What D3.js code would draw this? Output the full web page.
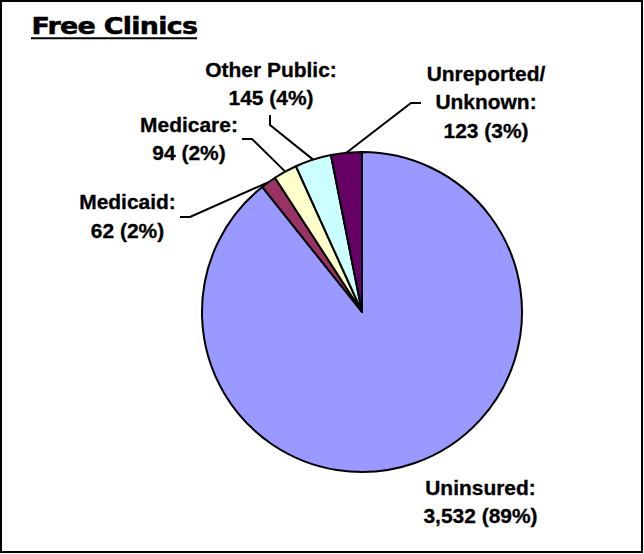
<!DOCTYPE html>
<html>
<head>
<meta charset="utf-8">
<script src="https://cdn.jsdelivr.net/npm/d3@7"></script>
<style>
html,body{margin:0;padding:0;background:#fff;}
svg{display:block;}
</style>
</head>
<body>
<script>
// ---- data ----
const categories = ["Uninsured", "Medicaid", "Medicare", "Other Public", "Unreported/Unknown"];
const values = [3532, 62, 94, 145, 123];
const labelLines = [
  ["Uninsured:", "3,532 (89%)"],
  ["Medicaid:", "62 (2%)"],
  ["Medicare:", "94 (2%)"],
  ["Other Public:", "145 (4%)"],
  ["Unreported/", "Unknown:", "123 (3%)"]
];
const colors = ["#9999FF", "#993366", "#FFFFCC", "#CCFFFF", "#660066"];
const title = "Free Clinics";

// ---- layout ----
const W = 644, H = 554;
const cx = 362, cy = 312, R = 160;
const lineH = 28.3;
const labelLayout = [
  {x: 480.5, y: 494.5, leader: null},
  {x: 127.5, y: 209.3, leader: [[190, 217], [180, 217]]},
  {x: 189, y: 131.7, leader: [[252, 139], [242, 139]]},
  {x: 271, y: 76.8, leader: [[270, 125], [270, 115]]},
  {x: 486, y: 81, leader: [[411, 103], [421, 103]]}
];

const svg = d3.select("body").append("svg").attr("width", W).attr("height", H);

svg.append("rect").attr("x", 1).attr("y", 1).attr("width", W - 3).attr("height", H - 3)
  .attr("fill", "#fff").attr("stroke", "#000").attr("stroke-width", 2);

// title (scaled horizontally to fit the reference width)
const tg = svg.append("g");
const tt = tg.append("text").attr("x", 0).attr("y", 0)
  .attr("font-family", "'DejaVu Sans', Verdana, sans-serif").attr("font-weight", "bold")
  .attr("font-size", 22.5).attr("letter-spacing", -0.6).attr("fill", "#000")
  .attr("stroke", "#000").attr("stroke-width", 0.5)
  .text(title);
const tw = tt.node().getBBox().width;
tg.attr("transform", `translate(31.5,33.5) scale(${166 / tw},1)`);
svg.append("line").attr("x1", 31).attr("x2", 197).attr("y1", 38.3).attr("y2", 38.3)
  .attr("stroke", "#000").attr("stroke-width", 2);

const pie = d3.pie().sort(null).value(d => d)(values);
const arc = d3.arc().innerRadius(0).outerRadius(R);
const g = svg.append("g").attr("transform", `translate(${cx},${cy})`);
g.selectAll("path").data(pie).join("path")
  .attr("d", arc)
  .attr("fill", (d, i) => colors[i])
  .attr("stroke", "#000").attr("stroke-width", 2).attr("stroke-linejoin", "round");

// leaders
pie.forEach((d, i) => {
  const L = labelLayout[i];
  if (!L.leader) return;
  const a = (d.startAngle + d.endAngle) / 2;
  const p0 = [cx + R * Math.sin(a), cy - R * Math.cos(a)];
  svg.append("path")
    .attr("d", d3.line()([p0, ...L.leader]))
    .attr("fill", "none").attr("stroke", "#000").attr("stroke-width", 2);
});

// labels
labelLines.forEach((lines, i) => {
  const L = labelLayout[i];
  const lg = svg.append("g").attr("transform", `translate(${L.x},${L.y}) scale(1.075,1)`);
  lines.forEach((s, k) => {
    lg.append("text").attr("x", 0).attr("y", k * lineH)
      .attr("text-anchor", "middle")
      .attr("font-family", "'Liberation Sans', Arial, sans-serif")
      .attr("font-weight", "bold").attr("font-size", 19.5)
      .attr("fill", "#000").attr("stroke", "#000").attr("stroke-width", 0.3)
      .text(s);
  });
});
</script>
</body>
</html>
